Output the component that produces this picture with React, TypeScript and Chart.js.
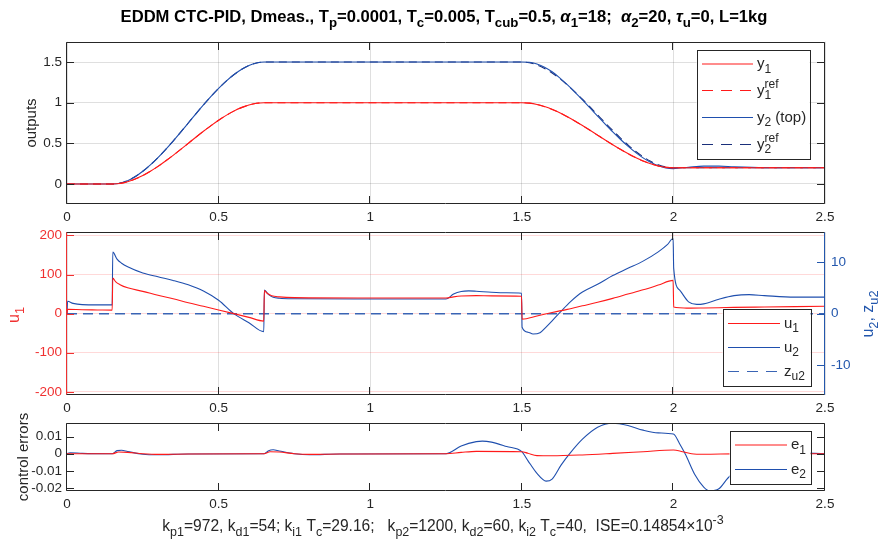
import React, { useEffect, useRef } from "react";
import { Chart, registerables } from "chart.js";
Chart.register(...registerables);

const FONT = "'Liberation Sans', Arial, Helvetica, sans-serif";
const AX = "#262626";
const RED = "#ff1a1a";
const BLUE = "#1f4fae";
const NAVY = "#1a2f7a";
const ZBLUE = "#3a64b4";
const RED_AX = "#f03030";
const BLUE_AX = "#2357ad";
const GRID = "rgba(38,38,38,0.15)";
const GRID_RED = "rgba(255,0,0,0.15)";

// ---------------- data ----------------
const X_TICKS = [0, 0.5, 1, 1.5, 2, 2.5];
const TOP_Y_TICKS = [0, 0.5, 1, 1.5];
const MID_L_TICKS = [-200, -100, 0, 100, 200];
const MID_R_TICKS = [-10, 0, 10];
const BOT_Y_TICKS = [-0.02, -0.01, 0, 0.01];

const T_TOP = [0, 0.15, 0.175, 0.2, 0.225, 0.25, 0.275, 0.3, 0.325, 0.35, 0.375, 0.4, 0.425, 0.45, 0.475, 0.5, 0.525, 0.55, 0.575, 0.6, 0.625, 0.65, 1.5, 1.525, 1.55, 1.575, 1.6, 1.625, 1.65, 1.675, 1.7, 1.725, 1.75, 1.775, 1.8, 1.825, 1.85, 1.875, 1.9, 1.925, 1.95, 1.975, 2.0, 2.05, 2.1, 2.15, 2.2, 2.3, 2.5];
const Y1 = [0, 0, 0.006, 0.027, 0.06, 0.103, 0.156, 0.216, 0.282, 0.352, 0.425, 0.5, 0.575, 0.648, 0.718, 0.784, 0.844, 0.896, 0.939, 0.972, 0.993, 1, 1, 0.994, 0.978, 0.952, 0.918, 0.876, 0.828, 0.775, 0.719, 0.661, 0.601, 0.541, 0.483, 0.427, 0.374, 0.325, 0.283, 0.248, 0.221, 0.204, 0.198, 0.2, 0.2, 0.2, 0.2, 0.2, 0.2];
const Y1_REF = [0, 0, 0.007, 0.028, 0.061, 0.104, 0.156, 0.216, 0.282, 0.352, 0.425, 0.5, 0.575, 0.648, 0.718, 0.784, 0.844, 0.896, 0.939, 0.972, 0.993, 1, 1, 0.994, 0.978, 0.951, 0.917, 0.875, 0.827, 0.774, 0.718, 0.66, 0.6, 0.54, 0.482, 0.426, 0.373, 0.325, 0.283, 0.249, 0.222, 0.206, 0.2, 0.2, 0.2, 0.2, 0.2, 0.2, 0.2];
const Y2 = [0, 0, 0.009, 0.041, 0.09, 0.156, 0.234, 0.324, 0.423, 0.528, 0.638, 0.75, 0.862, 0.972, 1.077, 1.176, 1.266, 1.344, 1.409, 1.458, 1.489, 1.5, 1.5, 1.498, 1.476, 1.437, 1.38, 1.306, 1.221, 1.13, 1.034, 0.935, 0.835, 0.736, 0.64, 0.55, 0.465, 0.388, 0.321, 0.266, 0.224, 0.197, 0.189, 0.206, 0.22, 0.22, 0.21, 0.2, 0.2];
const Y2_REF = [0, 0, 0.011, 0.042, 0.091, 0.156, 0.234, 0.324, 0.423, 0.528, 0.638, 0.75, 0.862, 0.972, 1.077, 1.176, 1.266, 1.344, 1.409, 1.458, 1.489, 1.5, 1.5, 1.491, 1.464, 1.421, 1.365, 1.297, 1.219, 1.134, 1.042, 0.947, 0.85, 0.753, 0.658, 0.567, 0.481, 0.403, 0.335, 0.279, 0.236, 0.209, 0.2, 0.2, 0.2, 0.2, 0.2, 0.2, 0.2];

const T_U1 = [0, 0.002, 0.05, 0.1, 0.149, 0.151, 0.16, 0.175, 0.2, 0.25, 0.3, 0.35, 0.4, 0.45, 0.5, 0.55, 0.6, 0.649, 0.651, 0.66, 0.675, 0.7, 0.75, 1.0, 1.25, 1.275, 1.3, 1.35, 1.4, 1.499, 1.501, 1.55, 1.6, 1.65, 1.7, 1.75, 1.8, 1.85, 1.9, 1.95, 1.999, 2.001, 2.02, 2.05, 2.1, 2.2, 2.3, 2.5];
const U1 = [0, 11, 10, 9.5, 9, 91, 82, 74, 66, 57, 47, 38, 28, 19, 9.5, 0, -9.5, -19, 59, 52, 46, 43, 41, 40, 40, 43, 45, 46, 45.5, 44.6, -14, -6, 3, 11, 20, 29, 39, 50, 61, 73, 85, 17, 15, 14, 14.5, 16, 17, 19];

const T_U2 = [0, 0.002, 0.02, 0.05, 0.1, 0.149, 0.151, 0.165, 0.18, 0.2, 0.25, 0.3, 0.35, 0.4, 0.45, 0.5, 0.55, 0.6, 0.649, 0.651, 0.665, 0.68, 0.7, 0.75, 1.0, 1.25, 1.275, 1.3, 1.325, 1.35, 1.4, 1.45, 1.499, 1.501, 1.52, 1.537, 1.56, 1.58, 1.6, 1.63, 1.66, 1.7, 1.75, 1.8, 1.85, 1.9, 1.95, 1.98, 1.999, 2.001, 2.02, 2.05, 2.077, 2.1, 2.15, 2.2, 2.25, 2.3, 2.4, 2.5];
const U2 = [0, 2.4, 2.0, 1.75, 1.7, 1.7, 11.95, 10.6, 9.8, 9.1, 7.9, 7.15, 6.45, 5.6, 4.4, 2.6, 0.0, -1.75, -3.5, 4.6, 3.7, 3.2, 3.0, 2.9, 2.85, 2.85, 3.8, 4.3, 4.42, 4.35, 4.15, 4.05, 3.97, -2.65, -3.6, -3.95, -3.7, -2.6, -1.4, 0.5, 2.3, 4.2, 5.7, 7.4, 8.8, 10.2, 12.0, 13.4, 14.6, 8.8, 4.6, 2.3, 1.8, 1.9, 2.8, 3.5, 3.7, 3.5, 3.2, 3.2];

const T_Z = [0, 2.5];
const Z_U2 = [0, 0];

const T_E1 = [0, 0.15, 0.17, 0.2, 0.25, 0.3, 0.4, 0.65, 0.67, 0.7, 0.75, 0.8, 0.9, 1.25, 1.3, 1.35, 1.5, 1.52, 1.55, 1.6, 1.7, 1.8, 1.9, 2.0, 2.03, 2.06, 2.1, 2.2, 2.5];
const E1 = [0, 0, 0.001, 0.0008, 0, -0.0004, -0.0002, 0, 0.0012, 0.001, 0, -0.0004, -0.0002, 0, 0.0008, 0.0014, 0.0012, 0.0003, -0.0011, -0.0012, -0.0007, 0.0002, 0.0012, 0.0022, 0.0012, 0, -0.0003, -0.0001, 0];

const T_E2 = [0, 0.01, 0.05, 0.15, 0.165, 0.18, 0.2, 0.25, 0.3, 0.4, 0.65, 0.665, 0.68, 0.7, 0.75, 0.8, 0.9, 1.25, 1.3, 1.35, 1.37, 1.4, 1.45, 1.5, 1.52, 1.55, 1.58, 1.6, 1.63, 1.66, 1.7, 1.75, 1.8, 1.85, 1.9, 1.95, 2.0, 2.02, 2.04, 2.07, 2.1, 2.12, 2.15, 2.18, 2.25, 2.33, 2.4, 2.5];
const E2 = [0, 0.0006, 0.0002, 0, 0.0018, 0.002, 0.0013, -0.0003, -0.0006, -0.0002, 0, 0.0018, 0.0023, 0.0016, 0, -0.0006, -0.0002, 0, 0.0045, 0.0071, 0.0074, 0.0068, 0.0042, 0.0012, -0.004, -0.0115, -0.016, -0.0148, -0.0065, 0.0005, 0.0085, 0.0155, 0.0178, 0.0165, 0.0138, 0.0122, 0.0115, 0.006, -0.0005, -0.012, -0.0195, -0.0218, -0.0205, -0.0142, -0.004, 0.0005, 0.0005, 0];

// ---------------- text helpers ----------------
type Seg = { t?: string; sub?: string; sup?: string; it?: boolean };
const fnt = (size: number, weight = "normal", italic = false) =>
  `${italic ? "italic " : ""}${weight} ${size}px ${FONT}`;

function segWidth(ctx: CanvasRenderingContext2D, s: Seg, size: number, weight: string) {
  let w = 0;
  if (s.t) { ctx.font = fnt(size, weight, s.it); w += ctx.measureText(s.t).width; }
  let sw = 0;
  ctx.font = fnt(size * 0.8, weight);
  if (s.sub) sw = Math.max(sw, ctx.measureText(s.sub).width);
  if (s.sup) sw = Math.max(sw, ctx.measureText(s.sup).width);
  return w + sw;
}

function drawRich(ctx: CanvasRenderingContext2D, segs: Seg[], x: number, y: number, size: number, color: string, align: string, weight = "normal") {
  const total = segs.reduce((a, s) => a + segWidth(ctx, s, size, weight), 0);
  let cx = align === "center" ? x - total / 2 : align === "right" ? x - total : x;
  ctx.save();
  ctx.fillStyle = color;
  ctx.textBaseline = "alphabetic";
  ctx.textAlign = "left";
  for (const s of segs) {
    if (s.t) {
      ctx.font = fnt(size, weight, s.it);
      ctx.fillText(s.t, cx, y);
      cx += ctx.measureText(s.t).width;
    }
    ctx.font = fnt(size * 0.8, weight);
    let sw = 0;
    if (s.sub) { ctx.fillText(s.sub, cx, y + size * 0.32); sw = Math.max(sw, ctx.measureText(s.sub).width); }
    if (s.sup) { ctx.fillText(s.sup, cx, y - size * 0.42); sw = Math.max(sw, ctx.measureText(s.sup).width); }
    cx += sw;
  }
  ctx.restore();
}

function drawRotated(ctx: CanvasRenderingContext2D, segs: Seg[], bx: number, cy: number, size: number, color: string) {
  ctx.save();
  ctx.translate(bx, cy);
  ctx.rotate(-Math.PI / 2);
  drawRich(ctx, segs, 0, 0, size, color, "center");
  ctx.restore();
}

type LegItem = { segs: Seg[]; color: string; dash: number[] };
type Legend = { box: number[]; line: number[]; textX: number; rows: number[]; items: LegItem[] };
type Deco = {
  leftColor: string;
  rightColor: string;
  y2?: boolean;
  legend: Legend;
  extra: (ctx: CanvasRenderingContext2D) => void;
};

const TICK_LEN = 7.5;
const LEG_FONT = 15;

function decoPlugin(d: Deco) {
  return {
    id: "deco",
    afterDatasetsDraw(chart: any) {
      const ctx: CanvasRenderingContext2D = chart.ctx;
      const a = chart.chartArea;
      const L = Math.round(a.left) - 0.5, R = Math.round(a.right) - 0.5;
      const T = Math.round(a.top) + 0.5, B = Math.round(a.bottom) - 0.5;
      ctx.save();
      ctx.lineWidth = 1;
      ctx.strokeStyle = AX;
      const xs = chart.scales.x;
      for (const tk of xs.ticks) {
        const px = Math.round(xs.getPixelForValue(tk.value)) - 0.5;
        ctx.beginPath();
        ctx.moveTo(px, B); ctx.lineTo(px, B - TICK_LEN);
        ctx.moveTo(px, T); ctx.lineTo(px, T + TICK_LEN);
        ctx.stroke();
      }
      const ys = chart.scales.y;
      ctx.strokeStyle = d.leftColor;
      for (const tk of ys.ticks) {
        const py = Math.round(ys.getPixelForValue(tk.value)) + 0.5;
        ctx.beginPath();
        ctx.moveTo(L, py); ctx.lineTo(L + TICK_LEN, py);
        ctx.stroke();
      }
      const rs = d.y2 ? chart.scales.y2 : ys;
      ctx.strokeStyle = d.rightColor;
      for (const tk of rs.ticks) {
        const py = Math.round(rs.getPixelForValue(tk.value)) + 0.5;
        ctx.beginPath();
        ctx.moveTo(R, py); ctx.lineTo(R - TICK_LEN, py);
        ctx.stroke();
      }
      ctx.strokeStyle = AX;
      ctx.beginPath(); ctx.moveTo(L, T); ctx.lineTo(R, T); ctx.moveTo(L, B); ctx.lineTo(R, B); ctx.stroke();
      ctx.strokeStyle = d.leftColor;
      ctx.beginPath(); ctx.moveTo(L, T); ctx.lineTo(L, B); ctx.stroke();
      ctx.strokeStyle = d.rightColor;
      ctx.beginPath(); ctx.moveTo(R, T); ctx.lineTo(R, B); ctx.stroke();
      const lg = d.legend;
      const [bl, bt, br, bb] = lg.box;
      ctx.fillStyle = "#ffffff";
      ctx.fillRect(bl, bt, br - bl, bb - bt);
      ctx.strokeStyle = AX;
      ctx.strokeRect(Math.round(bl) + 0.5, Math.round(bt) + 0.5, Math.round(br - bl), Math.round(bb - bt));
      lg.items.forEach((it, i) => {
        const y = lg.rows[i];
        ctx.strokeStyle = it.color;
        ctx.lineWidth = 1.2;
        ctx.setLineDash(it.dash);
        ctx.beginPath();
        ctx.moveTo(lg.line[0], y); ctx.lineTo(lg.line[1], y);
        ctx.stroke();
        ctx.setLineDash([]);
        drawRich(ctx, it.segs, lg.textX, y + 4, LEG_FONT, AX, "left");
      });
      ctx.restore();
      d.extra(ctx);
    },
  };
}

const pts = (t: number[], v: number[]) => t.map((x, i) => ({ x, y: v[i] }));

const line = (label: string, t: number[], v: number[], color: string, dash: number[] = [], yAxisID = "y", width = 1.1) => ({
  label,
  data: pts(t, v),
  borderColor: color,
  backgroundColor: color,
  borderWidth: width,
  borderDash: dash,
  pointRadius: 0,
  cubicInterpolationMode: "monotone",
  yAxisID,
});

const tickFont = { family: FONT, size: 13.5 };

function xScale(gridOn: boolean) {
  return {
    type: "linear",
    min: 0,
    max: 2.5,
    afterBuildTicks: (s: any) => { s.ticks = X_TICKS.map((v) => ({ value: v })); },
    afterFit: (s: any) => { s.height = 20; },
    grid: { display: gridOn, color: GRID, drawTicks: false },
    border: { display: false },
    ticks: { padding: 5, font: tickFont, color: AX, maxRotation: 0, autoSkip: false, callback: (v: any) => String(v) },
  };
}

function yScale(min: number, max: number, ticks: number[], color: string, gridColor: string | null, position = "left", width = 67, pad = 5) {
  return {
    type: "linear",
    position,
    min,
    max,
    afterBuildTicks: (s: any) => { s.ticks = ticks.map((v) => ({ value: v })); },
    afterFit: (s: any) => { s.width = width; },
    grid: { display: gridColor !== null, color: gridColor || GRID, drawTicks: false },
    border: { display: false },
    ticks: { padding: pad, font: tickFont, color, callback: (v: any) => String(v) },
  };
}

const H = 539;

function baseOptions(top: number, bottom: number, right: number, scales: any) {
  return {
    animation: false,
    responsive: false,
    maintainAspectRatio: false,
    events: [],
    layout: { padding: { left: 0, right, top, bottom: H - bottom - 20 } },
    plugins: { legend: { display: false }, tooltip: { enabled: false }, title: { display: false } },
    scales,
  };
}

const TITLE: Seg[] = [
  { t: "EDDM CTC-PID, Dmeas., T", sub: "p" },
  { t: "=0.0001, T", sub: "c" },
  { t: "=0.005, T", sub: "cub" },
  { t: "=0.5, " },
  { t: "α", it: true, sub: "1" },
  { t: "=18;  " },
  { t: "α", it: true, sub: "2" },
  { t: "=20, " },
  { t: "τ", it: true, sub: "u" },
  { t: "=0, L=1kg" },
];

const CAPTION: Seg[] = [
  { t: "k", sub: "p1" },
  { t: "=972, k", sub: "d1" },
  { t: "=54; k", sub: "i1" },
  { t: " T", sub: "c" },
  { t: "=29.16;   k", sub: "p2" },
  { t: "=1200, k", sub: "d2" },
  { t: "=60, k", sub: "i2" },
  { t: " T", sub: "c" },
  { t: "=40,  ISE=0.14854×10", sup: "-3" },
];

export default function App() {
  const r1 = useRef<HTMLCanvasElement>(null);
  const r2 = useRef<HTMLCanvasElement>(null);
  const r3 = useRef<HTMLCanvasElement>(null);

  useEffect(() => {
    const charts: Chart[] = [];
    charts.push(
      new Chart(r1.current!, {
        type: "line",
        data: {
          datasets: [
            line("y1", T_TOP, Y1, RED),
            line("y1 ref", T_TOP, Y1_REF, RED, [8, 5]),
            line("y2 (top)", T_TOP, Y2, BLUE),
            line("y2 ref", T_TOP, Y2_REF, NAVY, [8, 5]),
          ] as any,
        },
        options: baseOptions(41.7, 204.3, 55, {
          x: xScale(true),
          y: yScale(-0.25, 1.75, TOP_Y_TICKS, AX, GRID),
        }) as any,
        plugins: [
          decoPlugin({
            leftColor: AX,
            rightColor: AX,
            legend: {
              box: [696.5, 50, 809.5, 159],
              line: [702, 753],
              textX: 757,
              rows: [64, 90.5, 117.5, 144.5],
              items: [
                { segs: [{ t: "y", sub: "1" }], color: RED, dash: [] },
                { segs: [{ t: "y", sub: "1", sup: "ref" }], color: RED, dash: [11, 8] },
                { segs: [{ t: "y", sub: "2" }, { t: " (top)" }], color: BLUE, dash: [] },
                { segs: [{ t: "y", sub: "2", sup: "ref" }], color: NAVY, dash: [11, 8] },
              ],
            },
            extra: (ctx) => {
              drawRich(ctx, TITLE, 444, 22, 16.6, "#000000", "center", "bold");
              drawRotated(ctx, [{ t: "outputs" }], 36, 123, 15, AX);
            },
          }) as any,
        ],
      })
    );
    charts.push(
      new Chart(r2.current!, {
        type: "line",
        data: {
          datasets: [
            line("u1", T_U1, U1, RED),
            line("u2", T_U2, U2, BLUE, [], "y2"),
            line("zu2", T_Z, Z_U2, ZBLUE, [10, 6], "y2", 1.5),
          ] as any,
        },
        options: baseOptions(232.3, 395, 0, {
          x: xScale(true),
          y: yScale(-208, 208, MID_L_TICKS, RED_AX, GRID_RED, "left", 67, 5),
          y2: yScale(-15.8, 15.8, MID_R_TICKS, BLUE_AX, null, "right", 55, 6),
        }) as any,
        plugins: [
          decoPlugin({
            leftColor: RED_AX,
            rightColor: BLUE_AX,
            y2: true,
            legend: {
              box: [722.5, 308.5, 810.5, 385.5],
              line: [728, 780],
              textX: 784,
              rows: [323.5, 347.5, 371.5],
              items: [
                { segs: [{ t: "u", sub: "1" }], color: RED, dash: [] },
                { segs: [{ t: "u", sub: "2" }], color: BLUE, dash: [] },
                { segs: [{ t: "z", sub: "u2" }], color: ZBLUE, dash: [11, 8] },
              ],
            },
            extra: (ctx) => {
              drawRotated(ctx, [{ t: "u", sub: "1" }], 19, 315, 16, RED_AX);
              drawRotated(ctx, [{ t: "u", sub: "2" }, { t: ", z", sub: "u2" }], 873, 314, 16, BLUE_AX);
            },
          }) as any,
        ],
      })
    );
    charts.push(
      new Chart(r3.current!, {
        type: "line",
        data: {
          datasets: [
            line("e1", T_E1, E1, RED),
            line("e2", T_E2, E2, BLUE),
          ] as any,
        },
        options: baseOptions(423.3, 491, 55, {
          x: xScale(false),
          y: yScale(-0.0218, 0.0178, BOT_Y_TICKS, AX, null),
        }) as any,
        plugins: [
          decoPlugin({
            leftColor: AX,
            rightColor: AX,
            legend: {
              box: [729.5, 431, 810.5, 483.5],
              line: [735, 787],
              textX: 791,
              rows: [445, 469.5],
              items: [
                { segs: [{ t: "e", sub: "1" }], color: RED, dash: [] },
                { segs: [{ t: "e", sub: "2" }], color: BLUE, dash: [] },
              ],
            },
            extra: (ctx) => {
              drawRotated(ctx, [{ t: "control errors" }], 28, 457, 15, AX);
              drawRich(ctx, CAPTION, 443, 531, 15.6, AX, "center");
            },
          }) as any,
        ],
      })
    );
    return () => charts.forEach((c) => c.destroy());
  }, []);

  const cs: React.CSSProperties = { position: "absolute", left: 0, top: 0, width: 880, height: 539 };
  return (
    <div style={{ position: "absolute", left: 0, top: 0, width: 880, height: 539, background: "#ffffff", overflow: "hidden" }}>
      <canvas ref={r1} width={880} height={539} style={cs} />
      <canvas ref={r2} width={880} height={539} style={cs} />
      <canvas ref={r3} width={880} height={539} style={cs} />
    </div>
  );
}
